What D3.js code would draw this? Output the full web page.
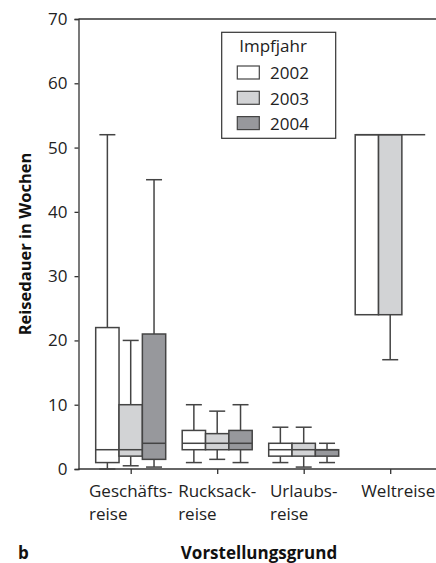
<!DOCTYPE html>
<html>
<head>
<meta charset="utf-8">
<script src="https://cdn.jsdelivr.net/npm/d3@7"></script>
<style>
  body { margin: 0; background: #fff; }
  svg { display: block; font-family: "Open Sans", sans-serif; }
</style>
</head>
<body>
<div id="canvas"></div>
<script>
// categories on the x axis (two-line labels)
const categories = ["Geschäftsreise", "Rucksackreise", "Urlaubsreise", "Weltreise"];
const categoryLines = [["Geschäfts-", "reise"], ["Rucksack-", "reise"], ["Urlaubs-", "reise"], ["Weltreise"]];
const years = ["2002", "2003", "2004"];
const yTicks = [0, 10, 20, 30, 40, 50, 60, 70];

// box stats per year: [min, q1, median, q3, max] for each category
const stats2002 = [[0, 1, 3, 22, 52], [1, 3, 4, 6, 10], [1, 2, 3, 4, 6.5], [24, 24, 52, 52, 52]];
const stats2003 = [[0.5, 2, 3, 10, 20], [1.5, 3, 4, 5.5, 9], [0.3, 2, 3, 4, 6.5], [17, 24, 52, 52, 52]];
const stats2004 = [[0.3, 1.5, 4, 21, 45], [1, 3, 4, 6, 10], [1, 2, 3, 3, 4], [52, 52, 52, 52, 52]];
const allStats = [stats2002, stats2003, stats2004];

const fills = ["#ffffff", "#d2d3d5", "#97989c"];
const strokeCol = "#444";

const width = 436, height = 563;
const plotLeft = 78.5, plotTop = 19, plotBottom = 469;

const svg = d3.select('#canvas').append('svg')
    .attr('width', width)
    .attr('height', height);

const y = d3.scaleLinear().domain([0, 70]).range([plotBottom, plotTop]);
const x = d3.scalePoint().domain(categories).range([130.7, 390.2]);
const inner = d3.scaleBand().domain(years).range([-35, 35]);

// y axis
const yAxis = svg.append('g')
    .attr('transform', 'translate(' + plotLeft + ',0)')
    .call(d3.axisLeft(y).tickValues(yTicks).tickSize(4).tickPadding(7).tickFormat(d3.format('d')));
yAxis.select('.domain').attr('stroke', '#333').attr('stroke-width', 1.3);
yAxis.selectAll('.tick line').attr('stroke', '#333').attr('stroke-width', 1.3);
yAxis.selectAll('.tick text').attr('font-size', 17).attr('fill', '#222')
    .attr('font-family', '"Open Sans", sans-serif');

// x axis
const xAxis = svg.append('g')
    .attr('transform', 'translate(0,' + plotBottom + ')')
    .call(d3.axisBottom(x).tickSize(5).tickFormat(''));
xAxis.select('.domain').remove();
xAxis.selectAll('.tick line').attr('stroke', '#333').attr('stroke-width', 1.3);
svg.append('line')
    .attr('x1', plotLeft).attr('x2', width)
    .attr('y1', plotBottom).attr('y2', plotBottom)
    .attr('stroke', '#333').attr('stroke-width', 1.3);

// top frame line
svg.append('line')
    .attr('x1', plotLeft).attr('x2', width)
    .attr('y1', plotTop).attr('y2', plotTop)
    .attr('stroke', '#333').attr('stroke-width', 1.3);

// category labels: first line centred, second line aligned to its start
const labelShift = [0, 0, 0, 8];
categories.forEach(function (c, i) {
    const t = svg.append('text')
        .attr('font-size', 17)
        .attr('fill', '#222')
        .attr('y', 497);
    const first = t.append('tspan').text(categoryLines[i][0]);
    const w = first.node().getComputedTextLength();
    const x0 = x(c) - w / 2 + labelShift[i];
    first.attr('x', x0);
    for (let k = 1; k < categoryLines[i].length; k++) {
        t.append('tspan').attr('x', x0).attr('dy', 23).text(categoryLines[i][k]);
    }
});

// boxes
const cap = 8;
years.forEach(function (yr, j) {
    const g = svg.append('g');
    allStats[j].forEach(function (s, i) {
        const x0 = x(categories[i]) + inner(yr);
        const bw = inner.bandwidth();
        const cx = x0 + bw / 2;
        // whiskers
        [[s[0], s[1]], [s[3], s[4]]].forEach(function (p) {
            if (p[0] === p[1]) return;
            g.append('line')
                .attr('x1', cx).attr('x2', cx)
                .attr('y1', y(p[0])).attr('y2', y(p[1]))
                .attr('stroke', strokeCol).attr('stroke-width', 1.5);
        });
        [s[0], s[4]].forEach(function (v, k) {
            if (v === s[k === 0 ? 1 : 3]) return;
            g.append('line')
                .attr('x1', cx - cap).attr('x2', cx + cap)
                .attr('y1', y(v)).attr('y2', y(v))
                .attr('stroke', strokeCol).attr('stroke-width', 1.5);
        });
        g.append('rect')
            .attr('x', x0).attr('width', bw)
            .attr('y', y(s[3])).attr('height', y(s[1]) - y(s[3]))
            .attr('fill', fills[j])
            .attr('stroke', strokeCol).attr('stroke-width', 1.5);
        g.append('line')
            .attr('x1', x0).attr('x2', x0 + bw)
            .attr('y1', y(s[2])).attr('y2', y(s[2]))
            .attr('stroke', strokeCol).attr('stroke-width', 1.5);
    });
});

// legend
const legend = svg.append('g');
legend.append('rect')
    .attr('x', 221.7).attr('y', 32.3)
    .attr('width', 114).attr('height', 106)
    .attr('fill', '#fff').attr('stroke', '#333').attr('stroke-width', 1.2);
legend.append('text')
    .attr('x', 273).attr('y', 52)
    .attr('text-anchor', 'middle')
    .attr('font-size', 17).attr('fill', '#222')
    .text('Impfjahr');
years.forEach(function (yr, j) {
    const yy = 66 + j * 25.3;
    legend.append('rect')
        .attr('x', 237.3).attr('y', yy)
        .attr('width', 22).attr('height', 13)
        .attr('fill', fills[j]).attr('stroke', strokeCol).attr('stroke-width', 1.2);
    legend.append('text')
        .attr('x', 270).attr('y', yy + 13.3)
        .attr('font-size', 17).attr('fill', '#222')
        .text(yr);
});

// axis titles
svg.append('text')
    .attr('transform', 'translate(31,' + (plotTop + plotBottom) / 2 + ') rotate(-90)')
    .attr('text-anchor', 'middle')
    .attr('font-size', 16.5).attr('font-weight', 'bold').attr('fill', '#111')
    .text('Reisedauer in Wochen');
svg.append('text')
    .attr('x', 259).attr('y', 559)
    .attr('text-anchor', 'middle')
    .attr('font-size', 17).attr('font-weight', 'bold').attr('fill', '#111')
    .text('Vorstellungsgrund');
svg.append('text')
    .attr('x', 18).attr('y', 559)
    .attr('font-size', 17).attr('font-weight', 'bold').attr('fill', '#111')
    .text('b');
</script>
</body>
</html>
